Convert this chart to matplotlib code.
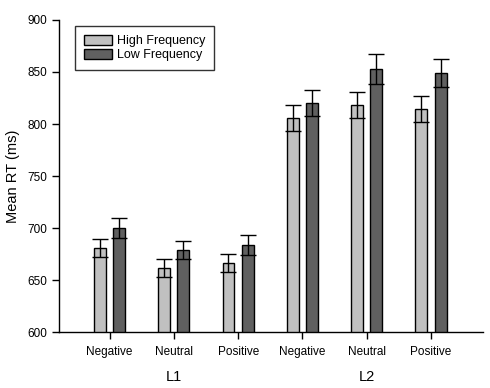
import matplotlib
matplotlib.use("Agg")
import matplotlib.pyplot as plt
import numpy as np

plt.rcParams['font.family'] = ['Liberation Sans', 'DejaVu Sans']

categories = ["Negative", "Neutral", "Positive", "Negative", "Neutral", "Positive"]
groups = ["L1", "L2"]
high_freq = [681, 661.5, 666.5, 806, 818, 814.5]
high_err = [9, 8.5, 8.7, 12.5, 12.5, 12.3]
low_freq = [700, 679, 683.5, 820, 853, 849]
low_err = [9.5, 8.5, 9.5, 12.5, 14.5, 13.5]
series_names = ["High Frequency", "Low Frequency"]

fig = plt.figure(figsize=(4.9, 3.88), dpi=100)
ax = fig.add_axes([0.1198, 0.1436, 0.865, 0.805])

x = np.arange(len(categories))
w = 0.186
off = 0.15
ax.bar(x - off, high_freq, w, color="#c0c0c0", edgecolor="black", linewidth=1,
       label=series_names[0], zorder=2)
ax.bar(x + off, low_freq, w, color="#606060", edgecolor="black", linewidth=1,
       label=series_names[1], zorder=2)
ax.errorbar(x - off, high_freq, yerr=high_err, fmt="none", ecolor="black",
            elinewidth=1, capsize=5.5, capthick=1, zorder=3)
ax.errorbar(x + off, low_freq, yerr=low_err, fmt="none", ecolor="black",
            elinewidth=1, capsize=5.5, capthick=1, zorder=3)

ax.set_ylim(600, 900)
ax.set_xlim(-0.79, 5.8)
ax.set_yticks(np.arange(600, 901, 50))
ax.set_xticks(x)
ax.set_xticklabels(categories, fontsize=8.5)
ax.tick_params(axis='y', labelsize=8.5, direction='out', length=5, width=1)
ax.tick_params(axis='x', direction='out', length=5, width=1, pad=5)
for s in ["top", "right"]:
    ax.spines[s].set_visible(False)
for s in ["left", "bottom"]:
    ax.spines[s].set_linewidth(1)
ax.set_ylabel("Mean RT (ms)", fontsize=10.5, labelpad=5)

ax.text(1, 557, groups[0], ha="center", va="center", fontsize=10.5)
ax.text(4, 557, groups[1], ha="center", va="center", fontsize=10.5)

leg = ax.legend(loc="upper left", bbox_to_anchor=(0.038, 0.98), fontsize=9,
                frameon=True, fancybox=False, edgecolor="black",
                handlelength=2.3, handleheight=0.8, handletextpad=0.4,
                borderpad=0.7, labelspacing=0.15, borderaxespad=0)
leg.get_frame().set_linewidth(1)

fig.savefig("out.png", dpi=100)
